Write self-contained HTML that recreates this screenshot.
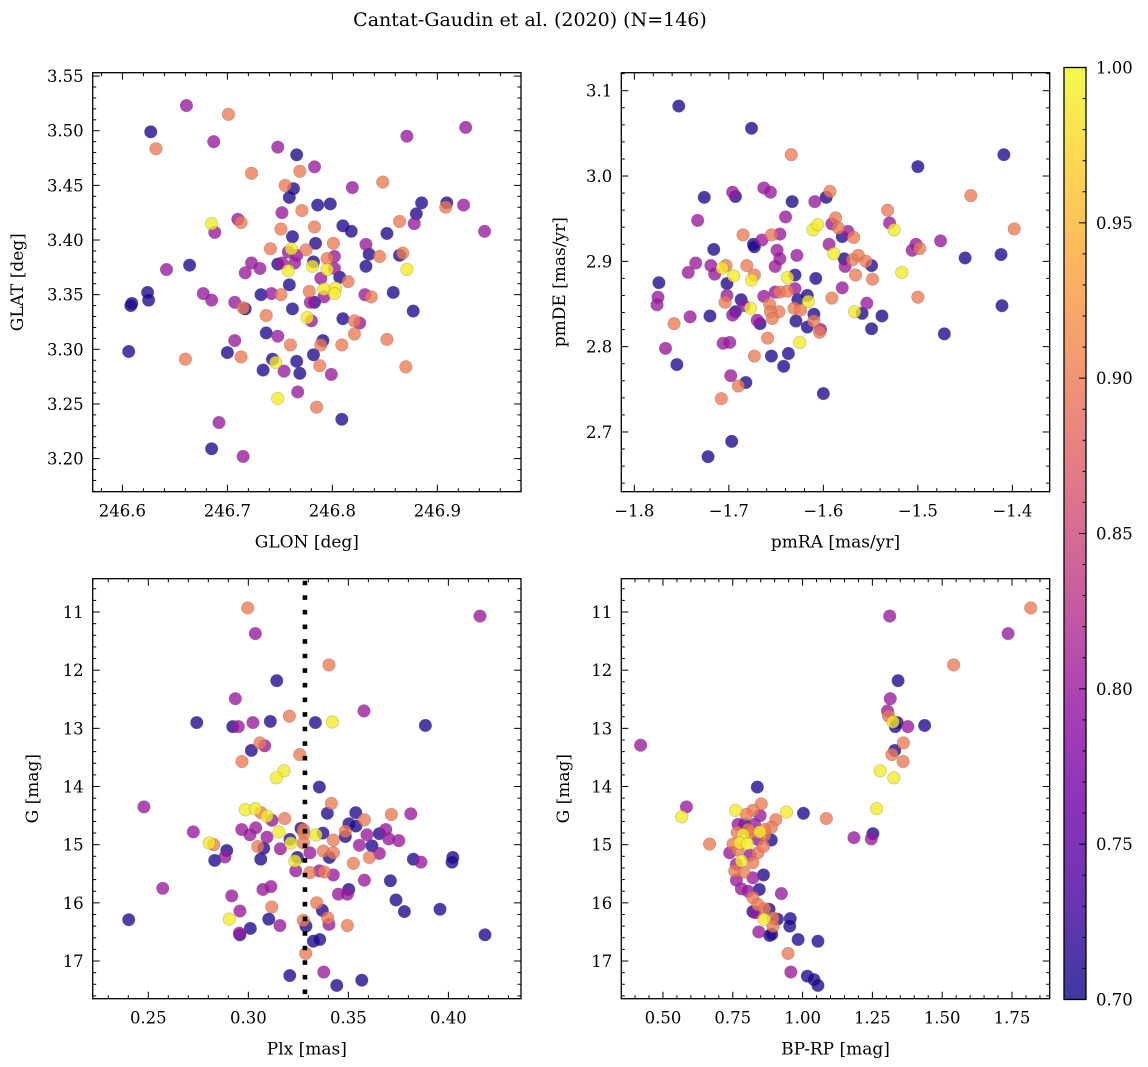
<!DOCTYPE html>
<html><head><meta charset="utf-8">
<style>
html,body{margin:0;padding:0;background:#fff;}
svg{display:block;font-family:"DejaVu Serif","Liberation Serif",serif;}
</style></head>
<body>
<svg id="fig" width="1148" height="1067" viewBox="0 0 1148 1067" xmlns="http://www.w3.org/2000/svg">
<defs>
<linearGradient id="plasma" x1="0" y1="1" x2="0" y2="0">
<stop offset="0" stop-color="#0d0887"/><stop offset="0.1" stop-color="#41049d"/><stop offset="0.2" stop-color="#6a00a8"/><stop offset="0.3" stop-color="#8f0da4"/><stop offset="0.4" stop-color="#b12a90"/><stop offset="0.5" stop-color="#cc4778"/><stop offset="0.6" stop-color="#e16462"/><stop offset="0.7" stop-color="#f2844b"/><stop offset="0.8" stop-color="#fca636"/><stop offset="0.9" stop-color="#fcce25"/><stop offset="1" stop-color="#f0f921"/>
</linearGradient>
<linearGradient id="plasmaA" x1="0" y1="1" x2="0" y2="0">
<stop offset="0" stop-color="#3d399f"/><stop offset="0.1" stop-color="#6736b1"/><stop offset="0.2" stop-color="#8833b9"/><stop offset="0.3" stop-color="#a53db6"/><stop offset="0.4" stop-color="#c155a6"/><stop offset="0.5" stop-color="#d66c93"/><stop offset="0.6" stop-color="#e78381"/><stop offset="0.7" stop-color="#f59d6f"/><stop offset="0.8" stop-color="#fdb85e"/><stop offset="0.9" stop-color="#fdd851"/><stop offset="1" stop-color="#f3fa4d"/>
</linearGradient>
</defs>
<text x="530" y="26" text-anchor="middle" font-size="19">Cantat-Gaudin et al. (2020) (N=146)</text>
</svg>
<script>
const B=0.71,P=0.80,S=0.90,Y=0.99;
// Panel 1: GLON vs GLAT
const p1x=[246.627,246.632,246.661,246.701,246.687,246.748,246.766,246.783,246.723,246.769,246.755,246.763,246.759,246.819,246.848,246.871,246.927,246.786,246.798,246.752,246.771,246.885,246.909,246.908,246.925,246.880,246.945,246.685,246.710,246.713,246.688,246.751,246.783,246.810,246.818,246.864,246.878,246.852,246.762,246.784,246.801,246.832,246.741,246.761,246.775,246.835,246.845,246.864,246.867,246.795,246.802,246.723,246.748,246.752,246.764,246.782,246.758,246.781,246.795,246.731,246.717,246.642,246.664,246.832,246.871,246.789,246.807,246.815,246.759,246.792,246.803,246.802,246.778,246.624,246.625,246.609,246.608,246.677,246.685,246.732,246.742,246.751,246.779,246.783,246.792,246.831,246.837,246.858,246.707,246.717,246.715,246.762,246.877,246.737,246.776,246.780,246.810,246.821,246.826,246.606,246.737,246.748,246.707,246.821,246.791,246.789,246.760,246.809,246.852,246.700,246.713,246.660,246.782,246.743,246.746,246.766,246.788,246.870,246.734,246.754,246.769,246.799,246.767,246.748,246.785,246.809,246.692,246.685,246.715,246.758,246.766,246.802];
const p1y=[3.499,3.4835,3.523,3.515,3.490,3.485,3.478,3.467,3.461,3.463,3.450,3.447,3.439,3.448,3.453,3.495,3.503,3.432,3.433,3.425,3.427,3.434,3.434,3.430,3.432,3.424,3.408,3.415,3.419,3.416,3.407,3.410,3.412,3.413,3.408,3.417,3.415,3.406,3.403,3.397,3.397,3.396,3.392,3.392,3.391,3.387,3.385,3.386,3.388,3.383,3.385,3.379,3.378,3.379,3.379,3.380,3.372,3.376,3.373,3.374,3.370,3.373,3.377,3.376,3.373,3.365,3.366,3.362,3.359,3.355,3.356,3.351,3.353,3.352,3.345,3.342,3.340,3.351,3.345,3.350,3.351,3.350,3.343,3.343,3.348,3.350,3.348,3.352,3.343,3.337,3.338,3.337,3.335,3.331,3.329,3.326,3.328,3.326,3.324,3.298,3.315,3.312,3.308,3.314,3.308,3.304,3.304,3.304,3.309,3.297,3.293,3.291,3.295,3.291,3.288,3.289,3.285,3.284,3.281,3.280,3.278,3.277,3.261,3.255,3.247,3.236,3.233,3.209,3.202,3.389,3.386,3.374];
const p1c=[B,S,P,S,P,P,B,P,S,S,S,B,B,P,S,P,P,B,B,P,S,B,B,S,P,B,P,Y,P,S,P,S,S,B,B,S,P,B,B,B,S,P,S,Y,S,B,S,B,S,S,P,P,B,P,P,B,Y,Y,Y,P,P,P,B,B,Y,P,B,S,B,Y,Y,Y,S,B,B,B,B,P,P,B,P,S,P,B,P,P,S,B,P,B,S,B,B,S,Y,P,B,S,P,B,B,P,P,S,B,S,S,S,S,B,S,S,B,B,Y,B,S,S,B,P,B,P,P,Y,S,B,P,B,P,P,P,P];
// Panel 2: pmRA vs pmDE
const p2x=[-1.753,-1.676,-1.634,-1.409,-1.500,-1.444,-1.398,-1.726,-1.696,-1.693,-1.663,-1.656,-1.633,-1.609,-1.597,-1.593,-1.532,-1.733,-1.640,-1.587,-1.591,-1.584,-1.611,-1.606,-1.530,-1.525,-1.685,-1.655,-1.646,-1.665,-1.674,-1.673,-1.574,-1.580,-1.568,-1.594,-1.716,-1.649,-1.646,-1.628,-1.476,-1.502,-1.506,-1.498,-1.412,-1.450,-1.735,-1.589,-1.578,-1.569,-1.563,-1.555,-1.549,-1.743,-1.719,-1.715,-1.703,-1.707,-1.695,-1.681,-1.673,-1.676,-1.651,-1.638,-1.630,-1.608,-1.577,-1.566,-1.548,-1.517,-1.774,-1.775,-1.776,-1.702,-1.702,-1.704,-1.687,-1.684,-1.693,-1.696,-1.677,-1.720,-1.741,-1.758,-1.663,-1.657,-1.651,-1.646,-1.638,-1.630,-1.627,-1.617,-1.616,-1.631,-1.647,-1.656,-1.654,-1.624,-1.629,-1.610,-1.610,-1.617,-1.603,-1.604,-1.667,-1.670,-1.591,-1.580,-1.554,-1.567,-1.559,-1.538,-1.549,-1.500,-1.411,-1.472,-1.767,-1.755,-1.706,-1.699,-1.659,-1.625,-1.637,-1.655,-1.673,-1.642,-1.698,-1.682,-1.690,-1.708,-1.600,-1.697,-1.722];
const p2y=[3.082,3.056,3.025,3.025,3.011,2.977,2.938,2.975,2.981,2.976,2.986,2.981,2.970,2.970,2.975,2.982,2.960,2.948,2.952,2.951,2.944,2.939,2.937,2.943,2.945,2.937,2.931,2.931,2.932,2.925,2.920,2.917,2.935,2.929,2.928,2.920,2.914,2.913,2.903,2.907,2.924,2.920,2.913,2.915,2.908,2.904,2.898,2.909,2.903,2.902,2.907,2.900,2.895,2.887,2.895,2.885,2.895,2.892,2.883,2.895,2.884,2.878,2.894,2.881,2.884,2.880,2.894,2.884,2.879,2.887,2.875,2.858,2.849,2.874,2.860,2.852,2.855,2.848,2.841,2.837,2.845,2.836,2.835,2.827,2.859,2.850,2.864,2.864,2.865,2.868,2.855,2.860,2.853,2.845,2.841,2.841,2.833,2.843,2.830,2.838,2.830,2.823,2.820,2.817,2.827,2.831,2.857,2.869,2.851,2.841,2.839,2.836,2.821,2.858,2.848,2.815,2.798,2.779,2.804,2.805,2.810,2.805,2.792,2.789,2.789,2.777,2.766,2.758,2.754,2.739,2.745,2.689,2.671];
const p2c=[B,B,S,B,B,S,S,B,P,B,P,P,B,P,B,S,S,P,P,S,P,S,Y,Y,P,Y,S,S,P,P,B,B,P,B,S,P,B,P,P,P,P,P,P,S,B,B,P,Y,B,S,S,S,B,P,P,P,S,Y,Y,S,S,Y,P,Y,B,B,P,S,S,Y,B,P,P,B,P,S,B,P,B,P,Y,B,P,S,P,S,P,S,S,P,B,B,Y,S,S,S,S,S,B,B,S,B,P,S,B,P,S,P,P,Y,B,B,B,S,B,B,P,B,P,P,S,Y,B,B,S,B,P,B,S,S,B,B,B];
// Panel 3: Plx vs G
const p3x=[0.2997,0.4158,0.3035,0.3403,0.3142,0.2935,0.3578,0.3205,0.2742,0.2922,0.2950,0.3023,0.3110,0.3335,0.3420,0.3885,0.3058,0.3082,0.3015,0.2968,0.3257,0.3178,0.3140,0.3355,0.2478,0.3415,0.2985,0.3035,0.3063,0.3093,0.3395,0.3537,0.3715,0.3812,0.3580,0.3182,0.3118,0.2725,0.2967,0.3037,0.3008,0.3093,0.3153,0.3263,0.3278,0.3338,0.3373,0.3425,0.3485,0.3503,0.3538,0.3485,0.3593,0.3655,0.3687,0.3702,0.3752,0.3555,0.3618,0.3655,0.3605,0.2805,0.2827,0.2892,0.2883,0.2832,0.3047,0.3077,0.3062,0.3160,0.3212,0.3208,0.3245,0.3233,0.3308,0.3375,0.3425,0.3405,0.3825,0.3863,0.4022,0.4018,0.3525,0.3237,0.3308,0.3355,0.3380,0.3425,0.3710,0.3580,0.2572,0.3073,0.3113,0.3502,0.3450,0.3495,0.3738,0.2917,0.3117,0.3342,0.2958,0.3780,0.3958,0.2402,0.2905,0.3102,0.3275,0.3370,0.3397,0.3403,0.3495,0.3158,0.3010,0.2955,0.2958,0.3288,0.4183,0.3325,0.3357,0.3287,0.3207,0.3377,0.3442,0.3567,0.3275,0.3275];
const p3y=[10.93,11.07,11.37,11.91,12.18,12.49,12.70,12.79,12.90,12.97,12.97,12.90,12.88,12.90,12.89,12.95,13.25,13.30,13.38,13.57,13.45,13.73,13.85,14.01,14.35,14.29,14.40,14.38,14.45,14.51,14.46,14.45,14.48,14.47,14.57,14.55,14.58,14.78,14.74,14.71,14.83,14.87,14.78,14.72,14.81,14.83,14.80,14.92,14.77,14.64,14.68,14.86,14.83,14.81,14.74,14.90,14.93,15.01,15.02,15.15,15.22,14.97,15.00,15.10,15.21,15.27,15.03,15.06,15.25,15.07,14.97,14.91,15.22,15.28,15.14,15.11,15.14,15.22,15.25,15.30,15.22,15.30,15.32,15.45,15.48,15.45,15.47,15.52,15.62,15.61,15.75,15.77,15.72,15.77,15.85,15.85,15.95,15.88,16.07,16.00,16.14,16.15,16.11,16.29,16.28,16.28,16.30,16.13,16.26,16.37,16.39,16.39,16.44,16.52,16.55,16.40,16.55,16.66,16.63,16.87,17.25,17.19,17.42,17.33,14.74,14.97];
const p3c=[S,P,P,S,B,P,P,S,B,B,P,P,B,B,Y,B,S,P,B,S,S,Y,Y,B,P,S,Y,Y,S,Y,B,B,S,P,S,S,P,P,P,P,P,P,Y,B,S,Y,B,S,S,B,B,B,P,B,P,P,P,P,B,P,S,Y,S,B,P,B,S,B,B,P,Y,B,B,Y,P,S,S,B,B,P,B,B,S,P,S,P,S,P,B,P,P,P,P,B,P,P,B,P,S,S,P,B,B,B,Y,B,S,B,S,P,S,P,B,P,B,B,B,B,B,S,B,P,B,B,S,S];
const plxRef=0.3283;
// Panel 4: BP-RP vs G
const p4x=[1.817,1.312,1.736,1.541,1.342,1.314,1.304,1.308,1.339,1.332,1.377,1.437,1.324,1.361,1.330,1.320,1.360,1.278,1.327,0.420,0.838,0.584,0.567,1.265,1.003,1.085,0.942,0.760,0.852,0.822,0.798,0.848,0.904,0.792,0.828,1.252,1.184,1.246,0.667,0.766,0.787,0.847,0.888,0.888,0.864,0.816,0.775,0.802,0.751,0.739,0.840,0.860,0.781,0.822,0.763,0.757,0.790,0.822,0.860,0.763,0.781,0.805,0.845,0.924,0.822,0.840,0.864,0.880,0.822,0.831,0.894,0.862,0.910,0.956,0.954,0.894,0.843,0.882,0.890,0.984,1.055,0.948,0.958,1.017,1.041,1.055,0.769,0.805,0.840,0.769,0.811,0.864];
const p4y=[10.93,11.07,11.37,11.91,12.18,12.49,12.70,12.79,12.90,12.97,12.97,12.95,12.89,13.25,13.38,13.45,13.57,13.73,13.85,13.29,14.01,14.35,14.52,14.38,14.46,14.55,14.44,14.41,14.30,14.41,14.48,14.50,14.57,14.65,14.65,14.81,14.88,14.90,14.99,14.79,14.83,14.78,14.70,14.92,14.84,14.79,14.97,14.98,14.99,15.14,15.14,15.03,15.28,15.31,15.34,15.45,15.47,15.57,15.52,15.61,15.76,15.80,15.77,15.84,15.91,16.03,16.10,16.11,16.15,16.17,16.26,16.28,16.28,16.27,16.40,16.40,16.50,16.56,16.54,16.63,16.66,16.87,17.19,17.26,17.32,17.42,14.65,14.74,14.91,15.09,15.18,14.74];
const p4c=[S,P,P,S,B,P,P,S,B,B,P,B,Y,S,B,S,S,Y,Y,P,B,P,Y,Y,B,S,Y,Y,S,S,S,P,S,B,P,B,P,P,S,S,Y,Y,S,B,S,S,Y,Y,S,P,S,S,Y,S,P,S,S,P,B,P,P,P,B,P,S,S,S,B,B,P,S,Y,B,B,B,S,P,B,B,B,B,S,P,B,B,B,P,S,P,S,P,S];
// Colorbar
const cbTicks=[0.70,0.75,0.80,0.85,0.90,0.95,1.00];
const cbMin=0.70,cbMax=1.00;

const NS='http://www.w3.org/2000/svg';
const svg=document.getElementById('fig');
function mk(tag,attrs,parent){const e=document.createElementNS(NS,tag);for(const k in attrs)e.setAttribute(k,attrs[k]);(parent||svg).appendChild(e);return e;}
const stops=[[0,13,8,135],[0.1,65,4,157],[0.2,106,0,168],[0.3,143,13,164],[0.4,177,42,144],[0.5,204,71,120],[0.6,225,100,98],[0.7,242,132,75],[0.8,252,166,54],[0.9,252,206,37],[1,240,249,33]];
function plasma(v){let t=(v-cbMin)/(cbMax-cbMin);t=Math.max(0,Math.min(1,t));for(let i=1;i<stops.length;i++){if(t<=stops[i][0]){const a=stops[i-1],b=stops[i],f=(t-a[0])/(b[0]-a[0]);return 'rgb('+[1,2,3].map(j=>Math.round(a[j]+f*(b[j]-a[j]))).join(',')+')';}}return 'rgb(240,249,33)';}
function fmtNum(v,d){const s=Math.abs(v).toFixed(d);return (v<0?'\u2212':'')+s;}

function panel(o){
  const g=mk('g',{});
  
  
  const sx=v=>o.L+(v-o.x0)/(o.x1-o.x0)*(o.R-o.L);
  const sy=v=>o.T+(v-o.yTop)/(o.yBot-o.yTop)*(o.Bm-o.T);
  const idx=[];const n=Math.min(o.xs.length,o.ys.length,o.cs.length);
  for(let i=0;i<n;i++)idx.push(i);
  idx.sort((a,b)=>o.cs[a]-o.cs[b]);
  const pg=mk('g',{},g);
  
  
  idx.forEach(i=>{
    const c=mk('circle',{cx:sx(o.xs[i]),cy:sy(o.ys[i]),r:6.3,fill:plasma(o.cs[i]),'fill-opacity':0.78,stroke:'#555','stroke-opacity':0.35,'stroke-width':0.6},pg);
    
    
  });
  if(o.vline!==undefined){
    const l=mk('line',{x1:sx(o.vline),x2:sx(o.vline),y1:o.T+2,y2:o.Bm,stroke:'#000','stroke-width':4.6,'stroke-dasharray':'4.6 10'},g);
    
    
  }
  const f=mk('rect',{x:o.L,y:o.T,width:o.R-o.L,height:o.Bm-o.T,fill:'none',stroke:'#000','stroke-width':1.3},g);
  
  
  const tg=mk('g',{stroke:'#000','stroke-width':1},g);
  const lo=Math.min(o.x0,o.x1),hi=Math.max(o.x0,o.x1);
  for(let k=Math.ceil(lo/o.xMin-1e-6);k*o.xMin<=hi+1e-9;k++){
    const v=k*o.xMin,x=sx(v);const maj=Math.abs(v/o.xMaj-Math.round(v/o.xMaj))<1e-6;const len=maj?7:3.5;
    mk('line',{x1:x,x2:x,y1:o.Bm,y2:o.Bm-len},tg);mk('line',{x1:x,x2:x,y1:o.T,y2:o.T+len},tg);
  }
  const ylo=Math.min(o.yTop,o.yBot),yhi=Math.max(o.yTop,o.yBot);
  for(let k=Math.ceil(ylo/o.yMin-1e-6);k*o.yMin<=yhi+1e-9;k++){
    const v=k*o.yMin,y=sy(v);const maj=Math.abs(v/o.yMaj-Math.round(v/o.yMaj))<1e-6;const len=maj?7:3.5;
    mk('line',{x1:o.L,x2:o.L+len,y1:y,y2:y},tg);mk('line',{x1:o.R,x2:o.R-len,y1:y,y2:y},tg);
  }
  o.xTicks.forEach(v=>{const t=mk('text',{x:sx(v),y:o.Bm+25,'text-anchor':'middle','font-size':16.5},g);t.textContent=fmtNum(v,o.xDec);
    
    });
  o.yTicks.forEach(v=>{const t=mk('text',{x:o.L-9,y:sy(v)+6,'text-anchor':'end','font-size':16.5},g);t.textContent=fmtNum(v,o.yDec);
    
    });
  const xt=mk('text',{x:(o.L+o.R)/2,y:o.Bm+56,'text-anchor':'middle','font-size':17},g);xt.textContent=o.xLabel;
  
  
  const yc=(o.T+o.Bm)/2;
  const yt=mk('text',{x:o.yLabX,y:yc,'text-anchor':'middle','font-size':17,transform:'rotate(-90 '+o.yLabX+' '+yc+')'},g);yt.textContent=o.yLabel;
  
  
}
panel({name:'glon-glat-panel',L:92.7,R:521,T:72.7,Bm:491.7,x0:246.5717,x1:246.9797,yTop:3.5531,yBot:3.1697,xs:p1x,ys:p1y,cs:p1c,
  xMaj:0.1,xMin:0.02,yMaj:0.05,yMin:0.01,xTicks:[246.6,246.7,246.8,246.9],yTicks:[3.20,3.25,3.30,3.35,3.40,3.45,3.50,3.55],xDec:1,yDec:2,xLabel:'GLON [deg]',yLabel:'GLAT [deg]',yLabX:23});
panel({name:'propermotion-panel',L:621.3,R:1049.7,T:72.7,Bm:491.7,x0:-1.8138,x1:-1.3605,yTop:3.1211,yBot:2.630,xs:p2x,ys:p2y,cs:p2c,
  xMaj:0.1,xMin:0.02,yMaj:0.1,yMin:0.02,xTicks:[-1.8,-1.7,-1.6,-1.5,-1.4],yTicks:[2.7,2.8,2.9,3.0,3.1],xDec:1,yDec:1,xLabel:'pmRA [mas/yr]',yLabel:'pmDE [mas/yr]',yLabX:565});
panel({name:'parallax-panel',L:92.7,R:521,T:578.7,Bm:998.7,x0:0.2222,x1:0.4363,yTop:10.427,yBot:17.648,xs:p3x,ys:p3y,cs:p3c,vline:plxRef,
  xMaj:0.05,xMin:0.01,yMaj:1,yMin:0.2,xTicks:[0.25,0.30,0.35,0.40],yTicks:[11,12,13,14,15,16,17],xDec:2,yDec:0,xLabel:'Plx [mas]',yLabel:'G [mag]',yLabX:38});
panel({name:'cmd-panel',L:621.3,R:1049.7,T:578.7,Bm:998.7,x0:0.3508,x1:1.885,yTop:10.427,yBot:17.648,xs:p4x,ys:p4y,cs:p4c,
  xMaj:0.25,xMin:0.05,yMaj:1,yMin:0.2,xTicks:[0.50,0.75,1.00,1.25,1.50,1.75],yTicks:[11,12,13,14,15,16,17],xDec:2,yDec:0,xLabel:'BP-RP [mag]',yLabel:'G [mag]',yLabX:569});

const cbT=67.5,cbB=999.5,cbL=1064,cbR=1086;
const cg=mk('g',{});


mk('rect',{x:cbL,y:cbT,width:cbR-cbL,height:cbB-cbT,fill:'url(#plasmaA)',stroke:'#000','stroke-width':1.3},cg);
const cy=v=>cbB-(v-cbMin)/(cbMax-cbMin)*(cbB-cbT);
for(let k=70;k<=100;k++){const v=k/100,y=cy(v);const maj=k%5===0;mk('line',{x1:cbR,x2:cbR-(maj?7:3.5),y1:y,y2:y,stroke:'#000','stroke-width':1},cg);}
cbTicks.forEach(v=>{const t=mk('text',{x:cbR+10,y:cy(v)+6,'font-size':16.5},cg);t.textContent=v.toFixed(2);
  
  });
</script>
</body></html>
